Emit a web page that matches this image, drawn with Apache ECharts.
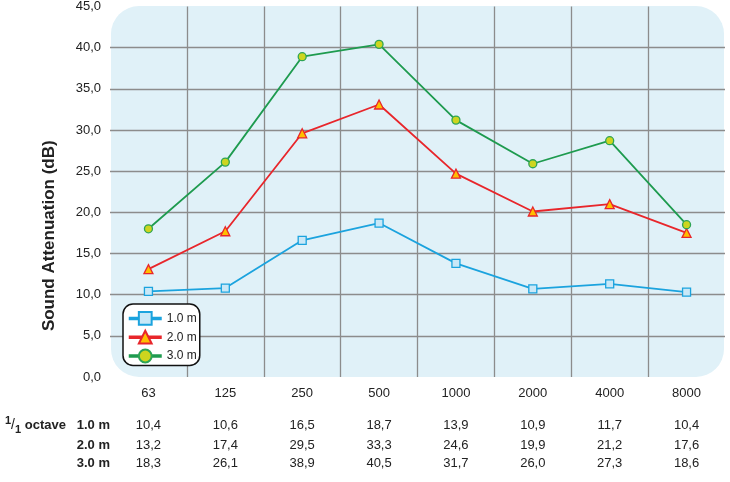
<!DOCTYPE html>
<html>
<head>
<meta charset="utf-8">
<script src="https://cdn.jsdelivr.net/npm/echarts@6/dist/echarts.min.js"></script>
<style>html,body{margin:0;padding:0;background:#fff}#c{width:730px;height:482px}</style>
</head>
<body>
<div id="c"></div>
<script>
// ---- data ----
const categories = ['63', '125', '250', '500', '1000', '2000', '4000', '8000'];
const seriesNames = ['1.0 m', '2.0 m', '3.0 m'];
const s10 = [10.4, 10.8, 16.6, 18.7, 13.8, 10.7, 11.3, 10.3];
const s20 = [13.1, 17.7, 29.6, 33.1, 24.7, 20.1, 21.0, 17.5];
const s30 = [18.0, 26.1, 38.9, 40.4, 31.2, 25.9, 28.7, 18.5];
const table10 = ['10,4', '10,6', '16,5', '18,7', '13,9', '10,9', '11,7', '10,4'];
const table20 = ['13,2', '17,4', '29,5', '33,3', '24,6', '19,9', '21,2', '17,6'];
const table30 = ['18,3', '26,1', '38,9', '40,5', '31,7', '26,0', '27,3', '18,6'];
const yTicks = { min: 0, max: 45, interval: 5 };

// ---- layout / style ----
const W = 730, H = 482;
const G = { left: 110, right: 5, top: 5, bottom: 105 };
const FONT = '"Liberation Sans", Arial, Helvetica, sans-serif';
const TXT = '#222';
const GRIDC = '#8c8c8c';

const styles = [
  { line: '#1ba3de', fill: '#c9e8f7', border: '#1ba3de', symbol: 'rect' },
  { line: '#e8262b', fill: '#ffbf00', border: '#e8262b', symbol: 'triangle' },
  { line: '#1e9b4f', fill: '#cdd51f', border: '#2ea456', symbol: 'circle' }
];
const values = [s10, s20, s30];
const tables = [table10, table20, table30];
const rowOffsets = [48, 68, 86];

const chart = echarts.init(document.getElementById('c'), null, { renderer: 'canvas' });

const xAxes = [{
  type: 'category', data: categories, gridIndex: 0, position: 'bottom',
  axisLine: { show: false }, axisTick: { show: false },
  axisLabel: { interval: 0, margin: 10, fontSize: 13, color: TXT, fontFamily: FONT },
  splitLine: { show: true, showMinLine: false, showMaxLine: false, lineStyle: { color: GRIDC, width: 1.3 } }
}];
tables.forEach((row, k) => {
  xAxes.push({
    type: 'category', data: categories, gridIndex: 0, position: 'bottom', offset: rowOffsets[k],
    axisLine: { show: false }, axisTick: { show: false }, splitLine: { show: false },
    axisLabel: { interval: 0, margin: 0, verticalAlign: 'middle', fontSize: 13, color: TXT, fontFamily: FONT,
      formatter: (v, i) => row[i] },
    name: seriesNames[k], nameLocation: 'start', nameGap: 0,
    nameTextStyle: { fontSize: 13, fontWeight: 'bold', color: TXT, fontFamily: FONT, align: 'right', verticalAlign: 'middle' }
  });
});

const option = {
  animation: false,
  grid: { left: G.left, right: G.right, top: G.top, bottom: G.bottom, containLabel: false },
  graphic: [
    { type: 'rect', z: -10, silent: true,
      shape: { x: G.left + 1, y: G.top + 1, width: W - G.left - G.right - 2, height: H - G.top - G.bottom - 1, r: 28 },
      style: { fill: '#e0f1f8' } },
    { type: 'text', left: 5, top: 415, silent: true,
      style: {
        text: '{sup|1}{sl|/}{sub|1}{oct| octave}',
        font: 'bold 13px ' + FONT, fill: TXT,
        rich: {
          sup: { fontSize: 11, fontWeight: 'bold', fontFamily: FONT, fill: TXT, verticalAlign: 'top', lineHeight: 11 },
          sl: { fontSize: 14, fontFamily: FONT, fill: TXT, lineHeight: 20 },
          sub: { fontSize: 11, fontWeight: 'bold', fontFamily: FONT, fill: TXT, verticalAlign: 'bottom', lineHeight: 11 },
          oct: { fontSize: 13, fontWeight: 'bold', fontFamily: FONT, fill: TXT, lineHeight: 20 }
        }
      } }
  ],
  legend: {
    orient: 'vertical', left: 123, top: 304,
    data: seriesNames,
    itemWidth: 33, itemHeight: 16, itemGap: 4,
    padding: [7, 3, 2, 4],
    backgroundColor: '#ffffff', borderColor: '#111', borderWidth: 1.5, borderRadius: 10,
    textStyle: { fontSize: 12, color: TXT, fontFamily: FONT },
    lineStyle: { width: 3.5 },
    itemStyle: { borderWidth: 2 }
  },
  xAxis: xAxes,
  yAxis: {
    type: 'value', min: yTicks.min, max: yTicks.max, interval: yTicks.interval,
    axisLine: { show: false }, axisTick: { show: false },
    axisLabel: { margin: 9, fontSize: 13, color: TXT, fontFamily: FONT,
      formatter: v => v.toFixed(1).replace('.', ',') },
    splitLine: { show: true, showMinLine: false, showMaxLine: false, lineStyle: { color: GRIDC, width: 1.3 } },
    name: 'Sound Attenuation (dB)', nameLocation: 'middle', nameGap: 52,
    nameTextStyle: { fontSize: 17, fontWeight: 'bold', color: TXT, fontFamily: FONT, padding: [0, 88, 0, 0] }
  },
  series: values.map((vals, k) => ({
    name: seriesNames[k], type: 'line', data: vals, xAxisIndex: 0,
    symbol: styles[k].symbol, symbolSize: styles[k].symbol === 'triangle' ? 9 : 8,
    showAllSymbol: true,
    lineStyle: { color: styles[k].line, width: 1.8 },
    itemStyle: { color: styles[k].fill, borderColor: styles[k].border, borderWidth: 1.3 },
    emphasis: { disabled: true }
  }))
};
chart.setOption(option);
</script>
</body>
</html>
